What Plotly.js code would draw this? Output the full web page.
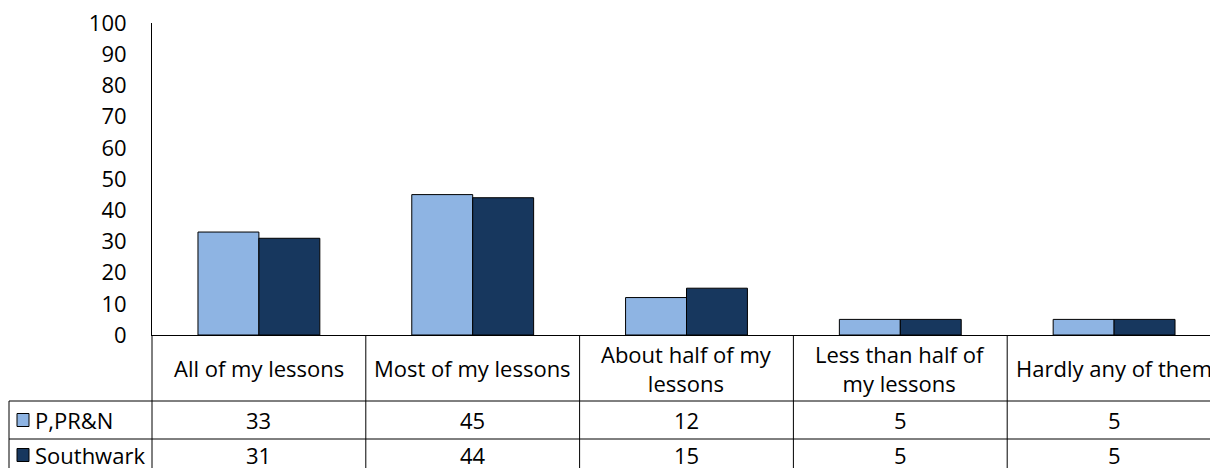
<!DOCTYPE html>
<html>
<head>
<meta charset="utf-8">
<script src="https://cdn.plot.ly/plotly-3.0.1.min.js"></script>
<style>
  html, body { margin: 0; padding: 0; background: #fff; }
  #chart { width: 1210px; height: 468px; }
</style>
</head>
<body>
<div id="chart"></div>
<script>
// ---- data ----
var categories = ["All of my lessons", "Most of my lessons", "About half of my<br>lessons", "Less than half of<br>my lessons", "Hardly any of them"];
var seriesNames = ["P,PR&N", "Southwark"];
var pprn = [33, 45, 12, 5, 5];
var southwark = [31, 44, 15, 5, 5];
var yTickVals = [0, 10, 20, 30, 40, 50, 60, 70, 80, 90, 100];

// ---- styling / layout constants ----
var colors = ["#8EB4E3", "#17375E"];
var W = 1210, H = 468;
var L = 152, T = 23, B = 133;
var plotW = W - L, plotH = H - T - B;
var catPx = 213.8;
var xr = [-0.5, -0.5 + plotW / catPx];
var FONT = "'Open Sans', Lato, sans-serif";
var FS = 22;

function px2paperX(px) { return (px - L) / plotW; }
function px2paperY(py) { return (H - B - py) / plotH; }
function cat2paperX(c) { return (c - xr[0]) / (xr[1] - xr[0]); }

var idx = categories.map(function (_, i) { return i; });

var traces = [pprn, southwark].map(function (vals, k) {
  return {
    type: "bar",
    x: idx,
    y: vals,
    name: seriesNames[k],
    marker: { color: colors[k], line: { color: "#000", width: 1 } },
    hoverinfo: "skip"
  };
});

// table geometry (pixels)
var headerBottom = 401, row1Bottom = 439, tableBottom = 475, leftX = 9;
var rowCenters = [420, 455];
var headerCenter = 368;

var shapes = [];
var lineStyle = { color: "#000", width: 1 };
for (var i = 0; i <= categories.length; i++) {
  shapes.push({ type: "line", xref: "paper", yref: "paper",
    x0: cat2paperX(i - 0.5), x1: cat2paperX(i - 0.5),
    y0: 0, y1: px2paperY(tableBottom), line: lineStyle });
}
[headerBottom, row1Bottom].forEach(function (py) {
  shapes.push({ type: "line", xref: "paper", yref: "paper",
    x0: px2paperX(leftX), x1: 1.0,
    y0: px2paperY(py), y1: px2paperY(py), line: lineStyle });
});
shapes.push({ type: "line", xref: "paper", yref: "paper",
  x0: px2paperX(leftX), x1: px2paperX(leftX),
  y0: px2paperY(headerBottom), y1: px2paperY(tableBottom), line: lineStyle });
rowCenters.forEach(function (cy, k) {
  shapes.push({ type: "rect", xref: "paper", yref: "paper",
    x0: px2paperX(17), x1: px2paperX(29),
    y0: px2paperY(cy - 6.5), y1: px2paperY(cy + 6.5),
    fillcolor: colors[k], line: { color: "#000", width: 1 } });
});

var annotations = [];
categories.forEach(function (c, i) {
  annotations.push({ xref: "x", yref: "paper", x: i, y: px2paperY(headerCenter),
    text: c, showarrow: false, xanchor: "center", yanchor: "middle",
    font: { family: FONT, size: FS, color: "#000" } });
});
[pprn, southwark].forEach(function (vals, k) {
  vals.forEach(function (v, i) {
    annotations.push({ xref: "x", yref: "paper", x: i, y: px2paperY(rowCenters[k]),
      text: String(v), showarrow: false, xanchor: "center", yanchor: "middle",
      font: { family: FONT, size: FS, color: "#000" } });
  });
  annotations.push({ xref: "paper", yref: "paper", x: px2paperX(33), y: px2paperY(rowCenters[k]),
    text: seriesNames[k].replace("&", "&amp;"), showarrow: false, xanchor: "left", yanchor: "middle",
    font: { family: FONT, size: FS, color: "#000" } });
});

var layout = {
  width: W, height: H,
  margin: { l: L, r: 0, t: T, b: B, pad: 0 },
  paper_bgcolor: "#fff", plot_bgcolor: "#fff",
  showlegend: false,
  barmode: "group",
  bargap: 0.43,
  bargroupgap: 0,
  font: { family: FONT, size: FS, color: "#000" },
  xaxis: {
    range: xr, showticklabels: false, ticks: "", showgrid: false, zeroline: false,
    showline: true, linecolor: "#000", linewidth: 1, fixedrange: true
  },
  yaxis: {
    range: [0, 100], tickvals: yTickVals, ticktext: yTickVals.map(String),
    ticks: "", showgrid: false, zeroline: false,
    showline: true, linecolor: "#000", linewidth: 1,
    tickfont: { family: FONT, size: FS, color: "#000" },
    ticklabelstandoff: 20, fixedrange: true
  },
  shapes: shapes,
  annotations: annotations
};

Plotly.newPlot("chart", traces, layout, { displayModeBar: false, staticPlot: true });
</script>
</body>
</html>
